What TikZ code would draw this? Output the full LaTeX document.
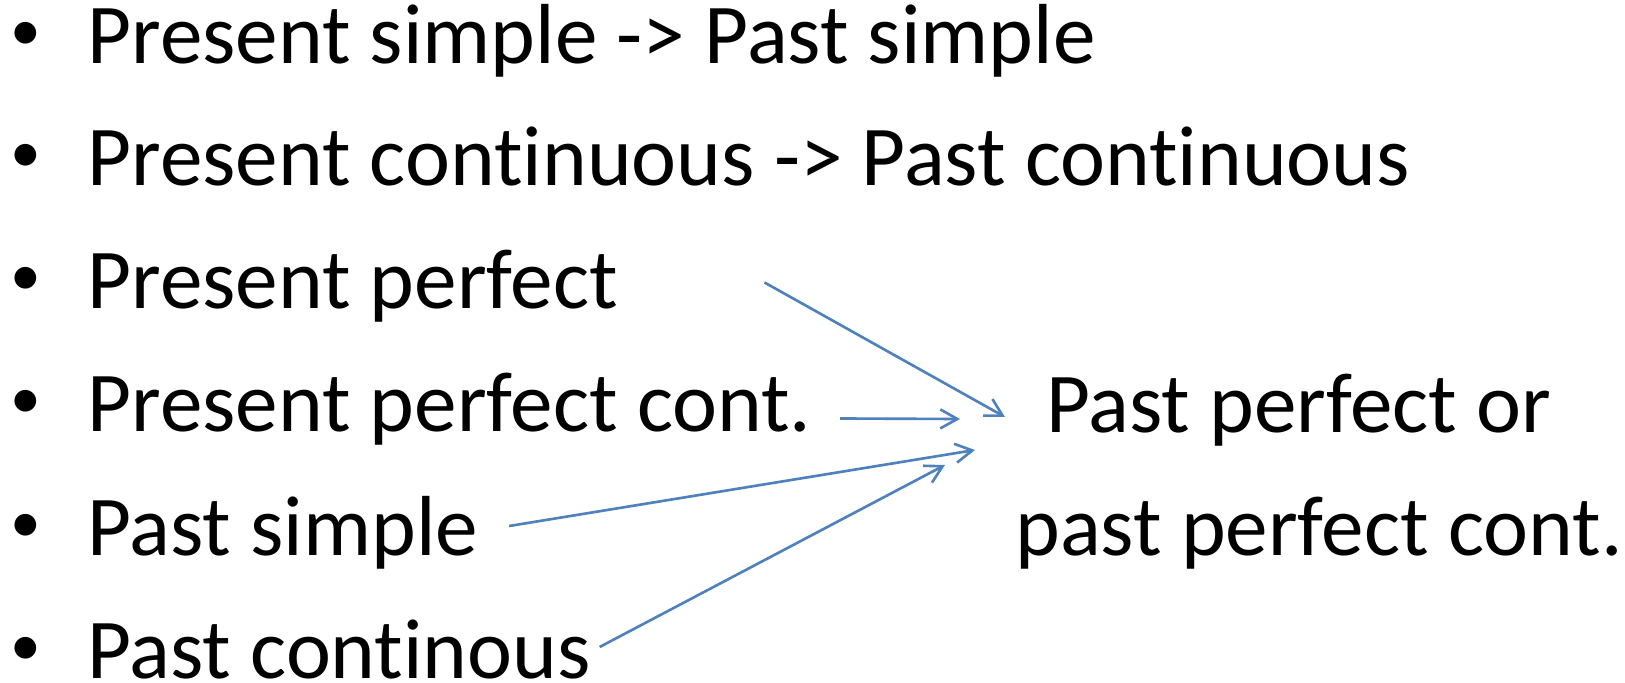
\documentclass[tikz,border=0pt]{standalone}
\usepackage{fontspec}
\setmainfont{Carlito}[Ligatures=CommonOff]
\usetikzlibrary{arrows.meta}
\definecolor{officeblue}{RGB}{79,129,189}
\tikzstyle{item} = [anchor=base west, inner sep=0pt, font=\fontsize{48.5}{58}\selectfont]
\tikzstyle{bul} = [anchor=base, inner sep=0pt, yshift=0.26cm, font=\fontsize{35}{42}\selectfont]
\tikzstyle{arr} = [draw=officeblue, line width=1.5pt,
    -{Straight Barb[length=3.4mm, width=3.8mm]}]

\begin{document}
\begin{tikzpicture}
\useasboundingbox (0,0) rectangle (32.5,-13.66);

\node[bul] (b1) at (0.51,-1.28) {\textbullet};
\node[bul] (b2) at (0.51,-3.72) {\textbullet};
\node[bul] (b3) at (0.51,-6.17) {\textbullet};
\node[bul] (b4) at (0.51,-8.63) {\textbullet};
\node[bul] (b5) at (0.51,-11.10) {\textbullet};
\node[bul] (b6) at (0.51,-13.56) {\textbullet};

\node[item] (presimple) at (1.74,-1.28) {Present simple -> Past simple};
\node[item] (precont) at (1.74,-3.72) {Present continuous -> Past continuous};
\node[item] (preperf) at (1.74,-6.17) {Present perfect};
\node[item] (preperfcont) at (1.74,-8.63) {Present perfect cont.};
\node[item] (pastsimple) at (1.74,-11.10) {Past simple};
\node[item] (pastcont) at (1.74,-13.56) {Past continous};

\node[item] (pastperf) at (20.92,-8.66) {Past perfect or};
\node[item] (pastperfcont) at (20.30,-11.10) {past perfect cont.};

\draw[arr] ([shift={(2.93,0.52)}]preperf.base east) -- ([shift={(-0.82,0.32)}]pastperf.base west);
\draw[arr] ([shift={(0.57,0.26)}]preperfcont.base east) -- ([shift={(-1.72,0.28)}]pastperf.base west);
\draw[arr] ([shift={(0.61,0.58)}]pastsimple.base east) -- ([shift={(-1.42,-0.34)}]pastperf.base west);
\draw[arr] ([shift={(0.17,0.62)}]pastcont.base east) -- ([shift={(-2.02,-0.64)}]pastperf.base west);

\end{tikzpicture}
\end{document}
